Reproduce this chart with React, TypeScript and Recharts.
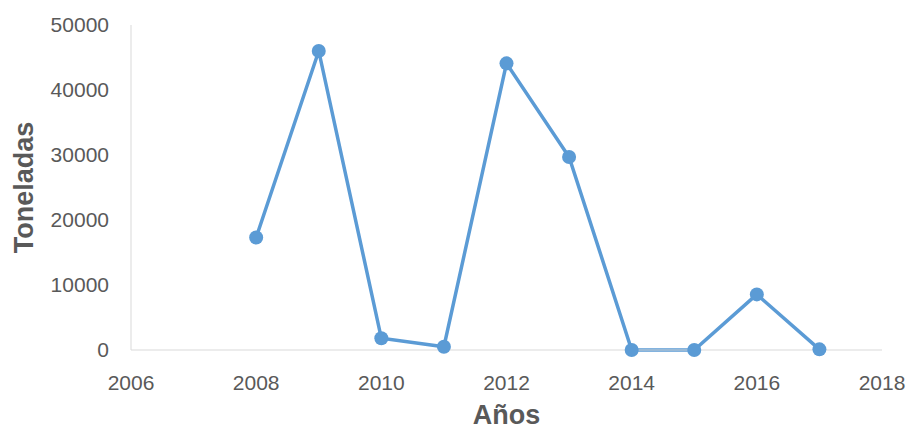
import { Line, LineChart, XAxis, YAxis } from "recharts";

const years = [2008, 2009, 2010, 2011, 2012, 2013, 2014, 2015, 2016, 2017];
const toneladas = [17300, 46000, 1800, 500, 44100, 29700, 0, 0, 8550, 100];
const xTicks = [2006, 2008, 2010, 2012, 2014, 2016, 2018];
const yTicks = [0, 10000, 20000, 30000, 40000, 50000];

const data = years.map((year, i) => ({ year, toneladas: toneladas[i] }));

const FONT = "'Liberation Sans', Arial, sans-serif";
const GRAY = "#595959";
const AXIS = "#d9d9d9";
const BLUE = "#5b9bd5";

export default function App() {
  return (
    <div style={{ position: "fixed", top: 0, left: 0, width: 909, height: 430, fontFamily: FONT, background: "#fff" }}>
      <LineChart width={909} height={430} data={data} margin={{ top: 25, right: 27, bottom: 0, left: 0 }}>
        <XAxis
          dataKey="year"
          type="number"
          domain={[2006, 2018]}
          ticks={xTicks}
          height={80}
          tickSize={0}
          tickMargin={25}
          stroke={AXIS}
          tick={{ fill: GRAY, fontSize: 21, fontFamily: FONT }}
          label={{
            value: "Años",
            position: "insideBottom",
            offset: 6,
            fill: GRAY,
            fontSize: 27,
            fontWeight: "bold",
            fontFamily: FONT,
          }}
        />
        <YAxis
          domain={[0, 50000]}
          ticks={yTicks}
          width={131}
          tickSize={0}
          tickMargin={22}
          stroke={AXIS}
          tick={{ fill: GRAY, fontSize: 21, fontFamily: FONT }}
          label={{
            value: "Toneladas",
            angle: -90,
            position: "insideLeft",
            offset: 23,
            style: { textAnchor: "middle" },
            fill: GRAY,
            fontSize: 27,
            fontWeight: "bold",
            fontFamily: FONT,
          }}
        />
        <Line
          dataKey="toneladas"
          stroke={BLUE}
          strokeWidth={3.5}
          dot={{ r: 7, fill: BLUE, stroke: BLUE, strokeWidth: 0 }}
          activeDot={false}
          isAnimationActive={false}
        />
      </LineChart>
    </div>
  );
}
